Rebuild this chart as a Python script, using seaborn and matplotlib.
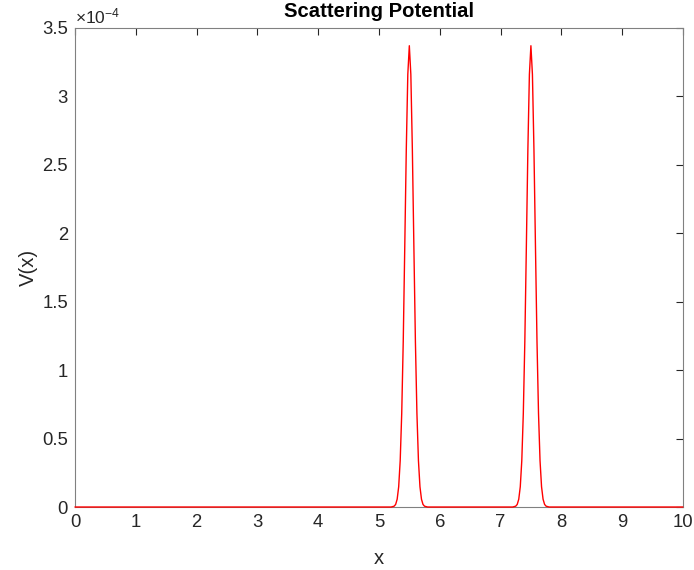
import numpy as np
import pandas as pd
import matplotlib
matplotlib.use("Agg")
import matplotlib.pyplot as plt
import seaborn as sns
from matplotlib.ticker import FuncFormatter

# ---- data ----
peak_centers = [5.5, 7.5]
# profile of each barrier: offset from centre (x units) and height (x1e-4)
profile_offsets = [-0.30, -0.25, -0.225, -0.20, -0.175, -0.15, -0.125, -0.10, -0.075, -0.05, -0.025, 0.0,
                   0.025, 0.05, 0.075, 0.10, 0.125, 0.15, 0.175, 0.20, 0.225, 0.25, 0.30]
profile_values = [0.0, 0.006, 0.019, 0.057, 0.148, 0.339, 0.684, 1.21, 1.90, 2.61, 3.16, 3.37,
                  3.16, 2.61, 1.90, 1.21, 0.684, 0.339, 0.148, 0.057, 0.019, 0.006, 0.0]
x_range = [0.0, 10.0]
x_ticks = [0, 1, 2, 3, 4, 5, 6, 7, 8, 9, 10]
y_ticks = [0, 0.5, 1.0, 1.5, 2.0, 2.5, 3.0, 3.5]   # x1e-4
y_scale = 1e-4

# build the table
xs = [x_range[0]]
vs = [0.0]
for c in peak_centers:
    for o, v in zip(profile_offsets, profile_values):
        xs.append(c + o)
        vs.append(v * y_scale)
xs.append(x_range[1])
vs.append(0.0)
df = pd.DataFrame({"x": xs, "V": vs})

sns.set_style("white")
plt.rcParams["font.family"] = ["Liberation Sans", "DejaVu Sans"]
plt.rcParams["mathtext.fontset"] = "custom"
plt.rcParams["mathtext.rm"] = "Liberation Sans"
plt.rcParams["mathtext.it"] = "Liberation Sans"

fig = plt.figure(figsize=(6.94, 5.70), dpi=100)
ax = fig.add_axes([0.108, 0.1105, 0.876, 0.8405])

sns.lineplot(data=df, x="x", y="V", color="#ff0000", linewidth=1.0, ax=ax,
             estimator=None, sort=False, clip_on=False, zorder=5)

ax.set_xlim(0, 10)
ax.set_ylim(0, 3.5 * y_scale)
ax.set_xticks(x_ticks)
ax.set_yticks([t * y_scale for t in y_ticks])
ax.xaxis.set_major_formatter(FuncFormatter(lambda v, p: f"{v:g}"))
ax.yaxis.set_major_formatter(FuncFormatter(lambda v, p: f"{v / y_scale:g}"))

grey = "#262626"
for s in ax.spines.values():
    s.set_visible(True)
    s.set_color("#808080")
    s.set_linewidth(0.8)
ax.tick_params(direction="in", length=5, width=0.8, color=grey, labelcolor=grey,
               labelsize=13.3, top=True, right=True, pad=5)

ax.set_title("Scattering Potential", fontsize=14.6, fontweight="bold", color="black", pad=8)
ax.set_xlabel("x", fontsize=14.6, color=grey, labelpad=13)
ax.set_ylabel("V(x)", fontsize=14.6, color=grey, labelpad=3)
ax.text(0.0, 1.004, r"$\times\mathregular{10^{-4}}$", transform=ax.transAxes,
        ha="left", va="bottom", fontsize=12.5, color=grey)

fig.savefig("out.png", dpi=100, facecolor="white")
